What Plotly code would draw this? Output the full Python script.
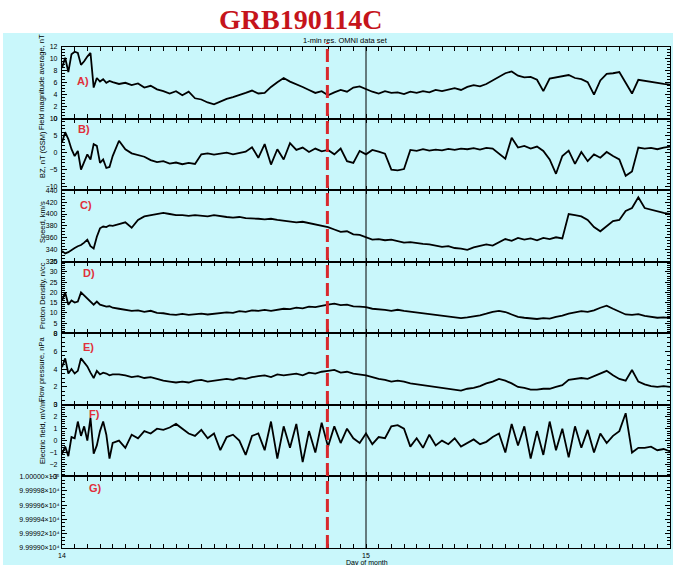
import plotly.graph_objects as go
from plotly.subplots import make_subplots

# ---- data (hours after 00:00 UT on Jan 14) ----
hours = [0, 0.25, 0.5, 0.75, 1, 1.25, 1.5, 1.75, 2, 2.25, 2.5, 2.75, 3, 3.25, 3.5, 3.75, 4,
         4.5, 5, 5.5, 6, 6.5, 7, 7.5, 8, 8.5, 9, 9.5, 10, 10.5, 11, 11.5, 12, 12.5, 13, 13.5, 14,
         14.5, 15, 15.5, 16, 16.5, 17, 17.5, 18, 18.5, 19, 19.5, 20, 20.5, 21, 21.5, 22, 22.5, 23,
         23.5, 24, 24.5, 25, 25.5, 26, 26.5, 27, 27.5, 28, 28.5, 29, 29.5, 30, 30.5, 31, 31.5, 32,
         32.5, 33, 33.5, 34, 34.5, 35, 35.5, 36, 36.5, 37, 37.5, 38, 38.5, 39, 39.5, 40, 40.5, 41,
         41.5, 42, 42.5, 43, 43.5, 44, 44.5, 45, 45.5, 46, 46.5, 47, 47.5, 48]

field_mag = [8.5, 10.2, 7.8, 10.8, 11.2, 11.0, 9.0, 9.6, 10.4, 11.0, 5.2, 6.8, 6.2, 6.6, 6.0, 6.3, 6.1,
             5.8, 6.0, 5.6, 5.9, 5.2, 5.5, 4.9, 4.6, 4.2, 4.6, 3.9, 4.5, 3.4, 3.2, 2.7, 2.4, 2.9, 3.3, 3.6, 3.9,
             4.3, 4.7, 4.2, 4.3, 5.3, 6.1, 6.8, 6.2, 5.8, 5.3, 4.8, 4.3, 4.6, 3.9, 4.4, 4.8, 4.5, 5.2,
             5.4, 4.9, 4.5, 4.2, 4.6, 4.3, 4.4, 4.1, 4.5, 4.3, 4.6, 4.4, 4.8, 4.6, 4.9, 5.1, 4.8, 5.3,
             5.6, 5.4, 5.8, 6.4, 7.0, 7.6, 7.9, 7.2, 6.9, 7.0, 6.5, 4.6, 6.7, 6.9, 7.1, 7.3, 6.8, 6.6,
             6.1, 4.0, 6.4, 7.5, 7.6, 7.8, 6.0, 4.2, 6.5, 6.3, 6.1, 6.0, 5.8, 5.7]

bz_gsm = [3, 6, 4, 1, -1, 0.5, -5, -3, -0.5, -2, 2.5, 2, -3, -2, -4.5, -4.2, -1,
          3.5, 1.0, -0.2, -0.8, -1.2, -2.2, -2.8, -2.5, -3.2, -2.9, -3.4, -3.0, -3.3, -0.5, -0.2, -0.6, -0.2, 0.0, -0.5, -0.2,
          0.3, 1.6, -1.5, 2.5, -3.5, 1.0, -2.0, 2.8, 0.8, 1.5, 0.2, 1.2, 0.4, 0.8, -0.5, 1.2, -2.5, -3.0,
          0.5, -0.5, 0.8, 0.3, -0.3, -5.0, -5.2, -4.8, 0.8, 0.5, 1.0, 0.6, 0.9, 0.7, 1.1, 0.8, 1.2, 1.0,
          1.3, 0.9, 1.4, 1.2, -0.3, -1.8, 4.4, 1.5, 2.0, 1.2, 1.8, 0.5, -2.0, -6.2, -1.0, 0.6, -3.3, 0.2,
          -2.5, -0.5, -1.5, 0.2, -1.0, -2.0, -6.8, -5.5, 1.5, 1.2, 1.4, 1.0, 1.5, 1.8]

speed = [338, 334, 336, 340, 343, 346, 348, 352, 357, 346, 342, 362, 376, 379, 378, 381, 380,
         383, 386, 377, 390, 396, 398, 401, 402, 400, 398, 398, 397, 398, 397, 396, 398, 396, 395, 394, 395,
         393, 393, 392, 391, 392, 390, 389, 388, 386, 387, 385, 383, 381, 378, 374, 370, 371, 366,
         365, 361, 357, 358, 356, 357, 354, 352, 353, 351, 350, 349, 347, 345, 346, 343, 342, 340,
         344, 346, 349, 347, 352, 358, 355, 360, 357, 359, 356, 360, 358, 361, 359, 400, 398, 396,
         390, 378, 371, 380, 388, 390, 405, 410, 428, 410, 407, 405, 402, 400]

density = [16, 20, 14, 16, 15, 15.5, 20, 18.5, 17, 15, 14, 15.5, 14, 13.5, 13, 13.2, 12.5,
           12.0, 11.5, 11.0, 11.2, 10.5, 11.0, 10.0, 9.8, 9.2, 9.0, 9.5, 9.0, 9.3, 9.6, 9.2, 9.5, 10.0, 10.2, 10.0, 10.8,
           10.5, 11.2, 11.0, 11.4, 11.0, 11.6, 12.0, 11.8, 12.5, 12.2, 13.0, 12.8, 13.5, 14.0, 14.5, 13.8, 14.0, 13.2,
           13.0, 12.8, 12.0, 11.8, 11.4, 11.0, 11.5, 11.0, 10.6, 10.0, 9.6, 9.2, 9.0, 8.6, 8.0, 7.6, 7.4, 7.8,
           8.2, 8.8, 9.6, 10.5, 11.0, 10.4, 9.2, 8.0, 7.6, 7.2, 7.0, 7.4, 7.2, 8.0, 8.6, 9.6, 10.2, 10.8,
           10.5, 11.2, 12.5, 13.5, 12.0, 10.5, 9.2, 9.0, 9.4, 8.5, 8.0, 7.6, 7.8, 7.5]

pressure = [4.2, 5.2, 3.5, 4.0, 3.5, 3.8, 5.2, 4.8, 4.3, 3.6, 3.0, 3.8, 3.4, 3.6, 3.5, 3.3, 3.4,
            3.4, 3.3, 3.1, 3.2, 3.0, 3.1, 2.9, 2.7, 2.6, 2.5, 2.6, 2.5, 2.7, 2.8, 2.6, 2.7, 2.8, 2.9, 2.8, 3.0,
            2.9, 3.1, 3.2, 3.3, 3.1, 3.4, 3.3, 3.4, 3.5, 3.3, 3.6, 3.5, 3.7, 3.8, 3.9, 3.6, 3.7, 3.5,
            3.4, 3.3, 3.1, 2.9, 2.8, 2.6, 2.7, 2.6, 2.4, 2.3, 2.2, 2.1, 2.0, 1.9, 1.8, 1.7, 1.6, 1.8,
            1.9, 2.1, 2.4, 2.6, 2.9, 2.7, 2.4, 2.0, 1.9, 1.7, 1.7, 1.8, 1.8, 2.0, 2.2, 2.8, 2.9, 3.0,
            2.9, 3.2, 3.5, 3.8, 3.3, 2.9, 2.7, 3.9, 2.6, 2.3, 2.1, 2.0, 2.1, 2.0]

efield = [-1.1, -0.5, -1.3, 0.3, 0.2, 1.6, 0.4, 1.2, 0.0, 1.9, -1.1, -0.4, 0.8, 1.6, 0.5, -1.5, -0.2,
          0.0, -0.6, 0.5, 0.2, 0.8, 0.6, 1.0, 0.9, 1.1, 1.4, 1.0, 0.6, 0.4, 0.9, 0.2, 0.6, -0.8, 0.3, 0.5, 0.0,
          -1.2, 0.4, 0.6, -0.8, 1.6, -1.5, 1.2, -0.6, 1.4, -1.8, 0.8, -1.0, 1.5, -0.5, 1.2, -0.2, 1.0, 0.2,
          -0.2, 0.6, -0.3, 0.3, 0.2, 1.2, 1.3, 1.0, -0.5, 0.2, -0.6, 0.5, -0.4, 0.0, -0.3, 0.2, -0.5, -0.2,
          0.1, -0.3, -0.1, 0.3, 0.6, -1.0, 1.4, -0.4, 1.2, -1.5, 0.8, -1.2, 1.6, -0.8, 1.0, -1.4, 1.2, -0.6,
          0.9, -1.0, 0.6, -0.2, 0.4, 0.8, 2.3, -1.0, -0.6, -0.6, -0.5, -0.8, -0.7, -0.9]

grb_day = 14.873   # GRB 190114C trigger (20:57 UT)
panel_labels = ["A)", "B)", "C)", "D)", "E)", "F)", "G)"]
y_titles = ["Field magnitude average, nT", "BZ, nT (GSM)", "Speed, km/s",
            "Proton Density, n/cc", "Flow pressure, nPa", "Electric field, mV/m", ""]
g_tickvals = [99999.0, 99999.2, 99999.4, 99999.6, 99999.8, 100000.0]
g_ticktext = ["9.99990×10⁴", "9.99992×10⁴", "9.99994×10⁴", "9.99996×10⁴", "9.99998×10⁴", "1.00000×10⁵"]

# ---- figure ----
W, H = 676, 565
ML, MR, MT, MB = 62, 6, 47, 17
PW, PH = W - ML - MR, H - MT - MB
def px2x(px):
    return (px - ML) / PW
def py2y(py):
    return (H - MB - py) / PH

CYAN = "#c9f7fb"
fig = make_subplots(rows=7, cols=1, shared_xaxes=True, vertical_spacing=0)

days = [14 + h / 24 for h in hours]
series = [field_mag, bz_gsm, speed, density, pressure, efield]
for i, s in enumerate(series):
    fig.add_trace(go.Scatter(x=days, y=s, mode="lines",
                             line=dict(color="black", width=1.8), showlegend=False),
                  row=i + 1, col=1)
# empty panel G
fig.add_trace(go.Scatter(x=[14, 16], y=[None, None], mode="lines", showlegend=False), row=7, col=1)

tickfont = dict(family="Liberation Sans", size=7, color="black")
yspecs = [
    dict(range=[0, 12], tick0=0, dtick=2, minor=0.5),
    dict(range=[-11, 10], tick0=0, dtick=5, minor=1),
    dict(range=[320, 440], tick0=320, dtick=20, minor=5),
    dict(range=[0, 35], tick0=0, dtick=5, minor=1),
    dict(range=[0, 8], tick0=0, dtick=2, minor=0.5),
    dict(range=[-3, 3], tick0=-3, dtick=1, minor=0.2),
]
for i, sp in enumerate(yspecs):
    fig.update_yaxes(row=i + 1, col=1, range=sp["range"], tickmode="linear", tick0=sp["tick0"],
                     dtick=sp["dtick"], ticks="inside", ticklen=5, tickwidth=1, tickcolor="black",
                     minor=dict(dtick=sp["minor"], ticks="inside", ticklen=3, tickcolor="black"),
                     showline=True, linecolor="black", linewidth=1.2, mirror="allticks",
                     showgrid=False, zeroline=False, tickfont=tickfont, ticklabelstandoff=2,
                     automargin=False)
fig.update_yaxes(row=7, col=1, range=[99999.0, 100000.0], tickmode="array", tickvals=g_tickvals,
                 ticktext=g_ticktext, ticks="inside", ticklen=5, tickcolor="black",
                 minor=dict(dtick=0.05, ticks="inside", ticklen=3, tickcolor="black"),
                 showline=True, linecolor="black", linewidth=1.2, mirror="allticks",
                 showgrid=False, zeroline=False, tickfont=tickfont, automargin=False)

hour_ticks = [14 + k / 24 for k in range(49)]
hour_text = ["14" if k == 0 else ("15" if k == 24 else "") for k in range(49)]
for r in range(1, 8):
    fig.update_xaxes(row=r, col=1, range=[14, 16], tickmode="array", tickvals=hour_ticks,
                     ticktext=hour_text, ticks="inside", ticklen=4, tickcolor="black",
                     showline=True, linecolor="black", linewidth=1.2, mirror="allticks",
                     showgrid=False, zeroline=False, tickfont=tickfont, automargin=False)

# vertical markers
fig.add_shape(type="line", xref="x7", yref="paper", x0=15, x1=15, y0=0, y1=1,
              line=dict(color="black", width=1))
fig.add_shape(type="line", xref="x7", yref="paper", x0=grb_day, x1=grb_day, y0=0, y1=py2y(43),
              line=dict(color="#d8282c", width=3, dash="13px,5px"))
# cyan background
fig.add_shape(type="rect", xref="paper", yref="paper", x0=px2x(3), x1=px2x(673), y0=py2y(566),
              y1=py2y(33), fillcolor=CYAN, line=dict(width=0), layer="below")

def note(text, px, py, size, color="black", family="Liberation Sans", angle=0):
    return dict(text=text, x=px2x(px), y=py2y(py), xref="paper", yref="paper",
                xanchor="center", yanchor="middle", showarrow=False, textangle=angle,
                font=dict(family=family, size=size, color=color))

ann = [note("<b>GRB190114C</b>", 300, 19, 28, "#c5141b", "Liberation Serif"),
       note("1-min res. OMNI data set", 345, 40, 7.5),
       note("Day of month", 367, 563, 7)]
label_pos = [(83, 81), (84, 129), (86, 205), (89, 273), (88, 347), (94, 414), (95, 488)]
for lab, (px, py) in zip(panel_labels, label_pos):
    ann.append(note("<b>" + lab + "</b>", px, py, 11, "#e0303a"))
title_pos = [82, 155, 222, 296, 370, 432]
for t, py in zip(y_titles, title_pos):
    ann.append(note(t, 42, py, 7.5, angle=-90))

fig.update_layout(width=W, height=H, margin=dict(l=ML, r=MR, t=MT, b=MB, autoexpand=False),
                  paper_bgcolor="white", plot_bgcolor="rgba(0,0,0,0)", annotations=ann,
                  showlegend=False)
fig.write_html("out.html", config={"displayModeBar": False},
               post_script="document.body.style.margin='0px';document.body.style.overflow='hidden';")
